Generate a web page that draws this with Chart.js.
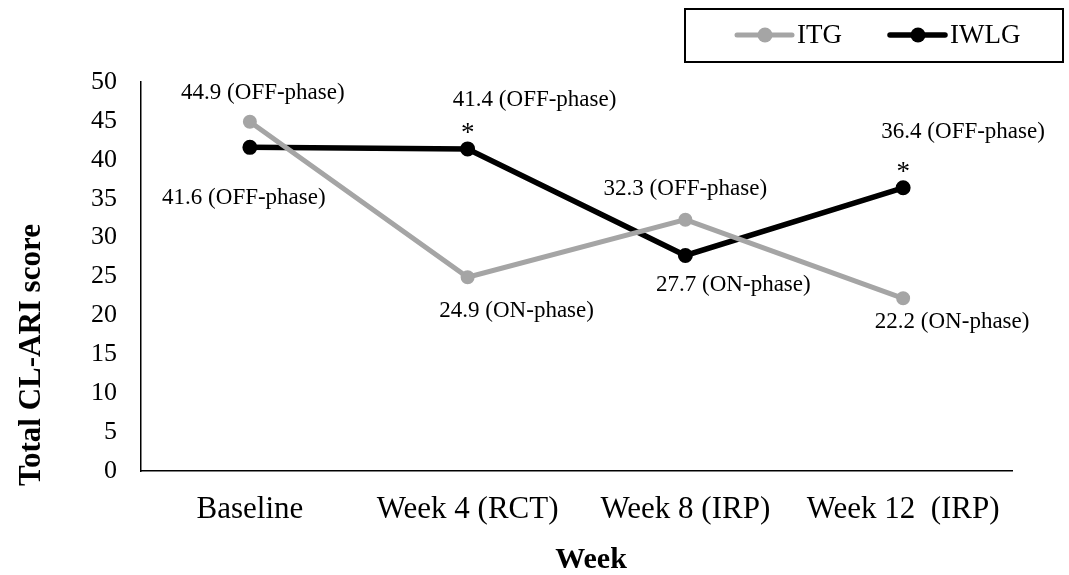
<!DOCTYPE html>
<html>
<head>
<meta charset="utf-8">
<script src="https://cdn.jsdelivr.net/npm/chart.js@4.4.1/dist/chart.umd.min.js"></script>
<style>
  html, body { margin: 0; padding: 0; background: #fff; }
  #wrap { width: 1069px; height: 575px; }
</style>
</head>
<body>
<div id="wrap"><canvas id="chart"></canvas></div>
<script>
// chart data
const categories = ['Baseline', 'Week 4 (RCT)', 'Week 8 (IRP)', 'Week 12  (IRP)']
const itgScores = [44.9, 24.9, 32.3, 22.2]
const iwlgScores = [41.6, 41.4, 27.7, 36.4]
const itgPhases = ['OFF-phase', 'ON-phase', 'OFF-phase', 'ON-phase']
const iwlgPhases = ['OFF-phase', 'OFF-phase', 'ON-phase', 'OFF-phase']
const iwlgSignificant = [false, true, false, true]
const yMin = 0
const yMax = 50
const yStep = 5
const xTitle = 'Week'
const yTitle = 'Total CL-ARI score'

// label placement relative to each point (dx, dy)
const itgLabelOffsets = [[13, -29], [49, 34], [0, -31], [49, 24]]
const iwlgLabelOffsets = [[-6, 51], [67, -49], [48, 29], [60, -56]]

const SERIF = '"Liberation Serif", "Times New Roman", serif'
const GRAY = '#a5a5a5'

const pointLabels = {
  id: 'pointLabels',
  afterDatasetsDraw(chart) {
    const ctx = chart.ctx
    const sets = [
      { idx: 0, values: itgScores, phases: itgPhases, offsets: itgLabelOffsets, stars: null },
      { idx: 1, values: iwlgScores, phases: iwlgPhases, offsets: iwlgLabelOffsets, stars: iwlgSignificant }
    ]
    ctx.save()
    ctx.fillStyle = '#000'
    ctx.textAlign = 'center'
    ctx.textBaseline = 'middle'
    sets.forEach(s => {
      const meta = chart.getDatasetMeta(s.idx)
      meta.data.forEach((pt, i) => {
        ctx.font = '23px ' + SERIF
        const [dx, dy] = s.offsets[i]
        ctx.fillText(s.values[i].toFixed(1) + ' (' + s.phases[i] + ')', pt.x + dx, pt.y + dy)
        if (s.stars && s.stars[i]) {
          ctx.font = '27px ' + SERIF
          ctx.fillText('*', pt.x, pt.y - 15)
        }
      })
    })
    ctx.restore()
  }
}

const titlesAndLegend = {
  id: 'titlesAndLegend',
  afterDraw(chart) {
    const ctx = chart.ctx
    ctx.save()
    ctx.fillStyle = '#000'
    ctx.textAlign = 'center'
    ctx.textBaseline = 'middle'
    ctx.font = 'bold 30px ' + SERIF
    ctx.fillText(xTitle, 591, 560)
    ctx.font = 'bold 31px ' + SERIF
    ctx.translate(32, 355)
    ctx.rotate(-Math.PI / 2)
    ctx.fillText(yTitle, 0, 0)
    ctx.restore()

    // legend box
    ctx.save()
    ctx.strokeStyle = '#000'
    ctx.lineWidth = 2
    ctx.strokeRect(685, 9, 378, 53)
    const itemX = [737, 890]
    const cy = 35
    ctx.font = '27px ' + SERIF
    ctx.textBaseline = 'middle'
    ctx.textAlign = 'left'
    chart.data.datasets.forEach((ds, i) => {
      const x0 = itemX[i]
      ctx.strokeStyle = ds.borderColor
      ctx.lineWidth = ds.borderWidth
      ctx.lineCap = 'round'
      ctx.beginPath()
      ctx.moveTo(x0, cy)
      ctx.lineTo(x0 + 55, cy)
      ctx.stroke()
      ctx.fillStyle = ds.pointBackgroundColor
      ctx.beginPath()
      ctx.arc(x0 + 28, cy, 7.5, 0, Math.PI * 2)
      ctx.fill()
      ctx.fillStyle = '#000'
      ctx.fillText(ds.label, x0 + 60, cy + 1)
    })
    ctx.restore()
  }
}

new Chart(document.getElementById('chart'), {
  type: 'line',
  data: {
    labels: categories,
    datasets: [
      {
        label: 'ITG',
        data: itgScores,
        borderColor: GRAY,
        backgroundColor: GRAY,
        pointBackgroundColor: GRAY,
        pointBorderColor: GRAY,
        borderWidth: 5,
        pointRadius: 6,
        pointBorderWidth: 2,
        tension: 0
      },
      {
        label: 'IWLG',
        data: iwlgScores,
        borderColor: '#000',
        backgroundColor: '#000',
        pointBackgroundColor: '#000',
        pointBorderColor: '#000',
        borderWidth: 5.5,
        pointRadius: 6.5,
        pointBorderWidth: 2,
        tension: 0
      }
    ]
  },
  options: {
    responsive: true,
    maintainAspectRatio: false,
    animation: false,
    layout: { padding: { top: 82, right: 57, left: 0, bottom: 0 } },
    plugins: {
      legend: { display: false },
      tooltip: { enabled: false }
    },
    scales: {
      x: {
        offset: true,
        grid: { display: false, drawTicks: false },
        border: { display: true, color: '#000', width: 1.5 },
        ticks: { color: '#000', font: { family: SERIF, size: 31 }, padding: 20, maxRotation: 0, autoSkip: false },
        afterFit(scale) { scale.height = 104 }
      },
      y: {
        min: yMin,
        max: yMax,
        grid: { display: false, drawTicks: false },
        border: { display: true, color: '#000', width: 1.5 },
        ticks: { stepSize: yStep, color: '#000', font: { family: SERIF, size: 26 }, padding: 24 },
        afterFit(scale) { scale.width = 141 }
      }
    }
  },
  plugins: [pointLabels, titlesAndLegend]
})
</script>
</body>
</html>
